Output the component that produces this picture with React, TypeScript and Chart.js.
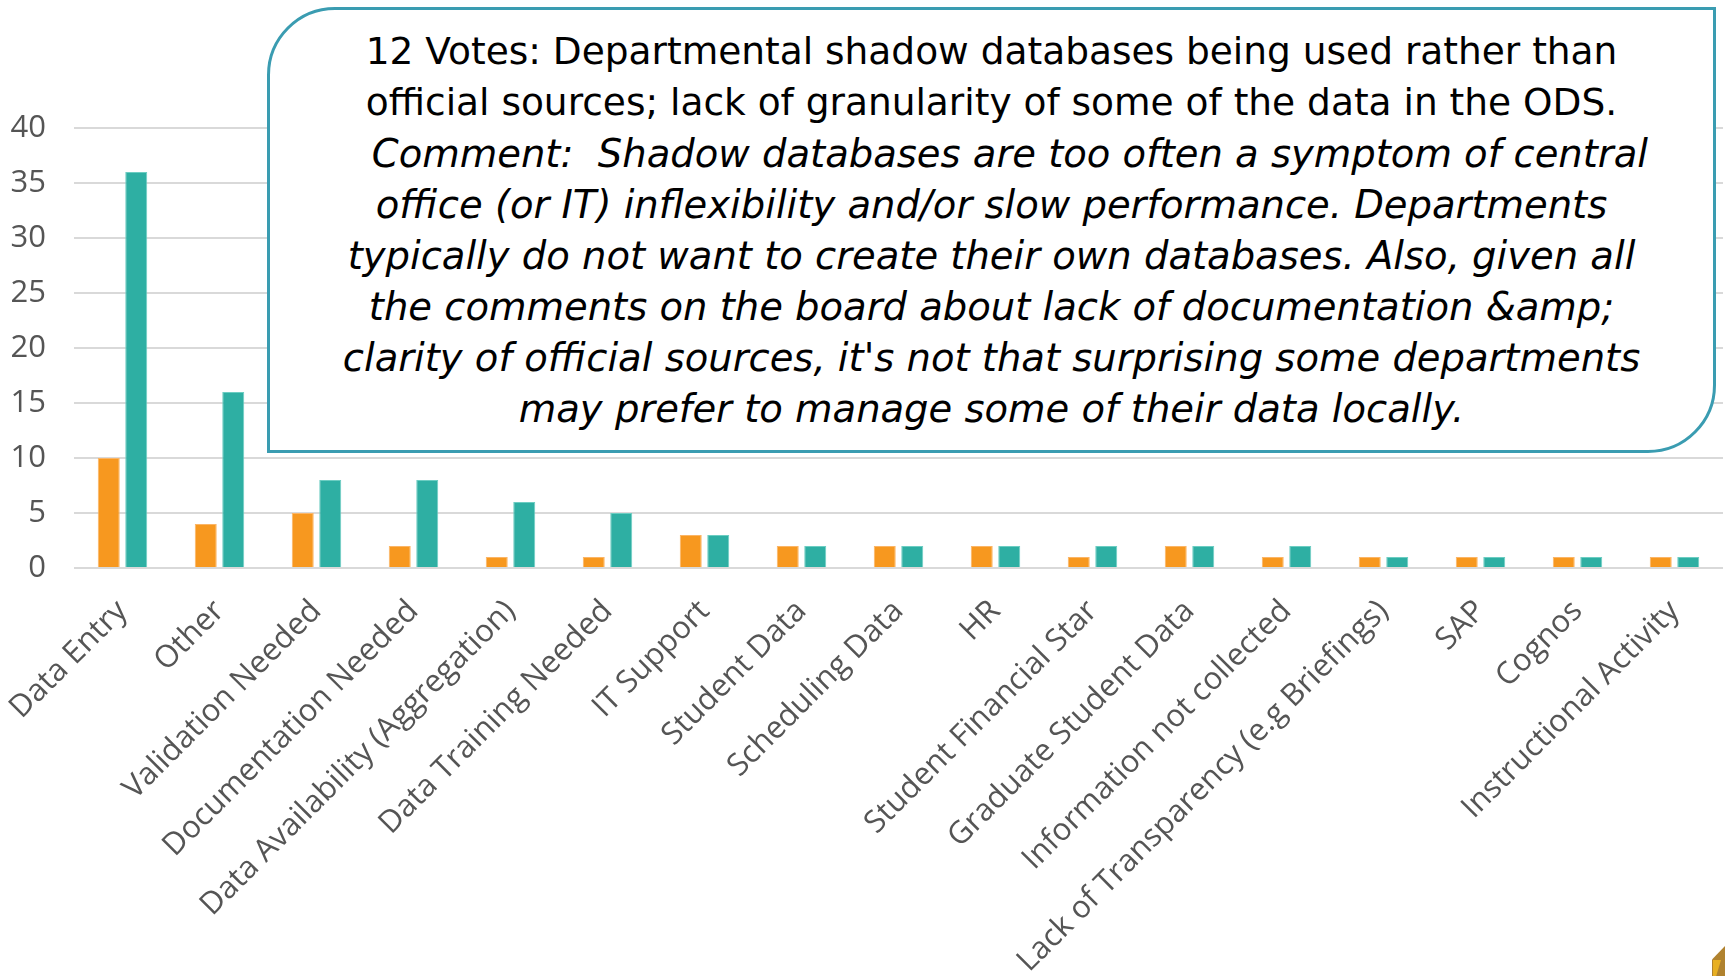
import React, { useEffect, useRef } from 'react';
import { Chart, registerables } from 'chart.js';

Chart.register(...registerables);

const categories = [
  'Data Entry',
  'Other',
  'Validation Needed',
  'Documentation Needed',
  'Data Availability (Aggregation)',
  'Data Training Needed',
  'IT Support',
  'Student Data',
  'Scheduling Data',
  'HR',
  'Student Financial Star',
  'Graduate Student Data',
  'Information not collected',
  'Lack of Transparency (e.g Briefings)',
  'SAP',
  'Cognos',
  'Instructional Activity',
];

const seriesOrange = [10, 4, 5, 2, 1, 1, 3, 2, 2, 2, 1, 2, 1, 1, 1, 1, 1];
const seriesTeal = [36, 16, 8, 8, 6, 5, 3, 2, 2, 2, 2, 2, 2, 1, 1, 1, 1];

const yMin = 0;
const yMax = 40;
const yStep = 5;

const noteLines = [
  { text: '12 Votes: Departmental shadow databases being used rather than', italic: false },
  { text: 'official sources; lack of granularity of some of the data in the ODS.', italic: false },
  { text: '   Comment:  Shadow databases are too often a symptom of central', italic: true },
  { text: 'office (or IT) inflexibility and/or slow performance. Departments', italic: true },
  { text: 'typically do not want to create their own databases. Also, given all', italic: true },
  { text: 'the comments on the board about lack of documentation &amp;', italic: true },
  { text: "clarity of official sources, it's not that surprising some departments", italic: true },
  { text: 'may prefer to manage some of their data locally.', italic: true },
];

const FONT = "'Open Sans', 'DejaVu Sans', sans-serif";
const BOX_FONT = "'DejaVu Sans', sans-serif";

export default function App() {
  const canvasRef = useRef<HTMLCanvasElement | null>(null);

  useEffect(() => {
    document.body.style.margin = '0';
    document.body.style.overflow = 'hidden';
    const canvas = canvasRef.current;
    if (!canvas) return;
    const chart = new Chart(canvas, {
      type: 'bar',
      data: {
        labels: categories,
        datasets: [
          {
            label: 'Series 1',
            data: seriesOrange,
            backgroundColor: '#F7981F',
            borderColor: '#FBB566',
            borderWidth: 1,
            categoryPercentage: 0.567,
            barPercentage: 0.8,
          },
          {
            label: 'Series 2',
            data: seriesTeal,
            backgroundColor: '#2EAFA3',
            borderColor: '#6CCDC2',
            borderWidth: 1,
            categoryPercentage: 0.567,
            barPercentage: 0.8,
          },
        ],
      },
      options: {
        responsive: false,
        animation: false,
        devicePixelRatio: 1,
        layout: { padding: { top: 128, left: 0, right: 2, bottom: 0 } },
        plugins: {
          legend: { display: false },
          tooltip: { enabled: false },
        },
        scales: {
          x: {
            grid: { display: false, drawTicks: false },
            border: { display: false },
            ticks: {
              autoSkip: false,
              maxRotation: 45,
              minRotation: 45,
              padding: 25,
              color: '#555555',
              font: { family: FONT, size: 31 },
            },
            afterFit: (scale: any) => {
              scale.height = 408;
              scale.paddingLeft = 0;
              scale.paddingRight = 0;
            },
          },
          y: {
            min: yMin,
            max: yMax,
            grid: { color: '#D9D9D9', lineWidth: 2, drawTicks: false },
            border: { display: false },
            ticks: {
              stepSize: yStep,
              padding: 28,
              color: '#555555',
              font: { family: FONT, size: 31 },
            },
            afterFit: (scale: any) => {
              scale.width = 74;
            },
          },
        },
      },
    });
    return () => chart.destroy();
  }, []);

  return (
    <div style={{ position: 'fixed', left: 0, top: 0, width: 1725, height: 976, background: '#fff', overflow: 'hidden' }}>
      <canvas ref={canvasRef} width={1725} height={976} style={{ position: 'absolute', left: 0, top: 0 }} />
      <div
        style={{
          position: 'absolute',
          left: 267,
          top: 7,
          width: 1716 - 267,
          height: 453 - 7,
          boxSizing: 'border-box',
          border: '3px solid #3A9CB1',
          borderRadius: '68px 0 68px 0',
          background: '#fff',
          display: 'flex',
          flexDirection: 'column',
          alignItems: 'center',
          justifyContent: 'center',
          fontFamily: BOX_FONT,
          lineHeight: '51px',
          color: '#000',
        }}
      >
        {noteLines.map((l, i) => (
          <div
            key={i}
            style={{
              whiteSpace: 'pre',
              fontStyle: l.italic ? 'italic' : 'normal',
              fontSize: l.italic ? 38.5 : 37.5,
            }}
          >
            {l.text}
          </div>
        ))}
      </div>
      <div
        style={{
          position: 'absolute',
          left: 1712,
          top: 946,
          width: 13,
          height: 30,
          background: '#B0822F',
          clipPath: 'polygon(100% 0, 100% 100%, 0 100%, 0 45%)',
        }}
      />
      <div
        style={{
          position: 'absolute',
          left: 1713,
          top: 960,
          width: 8,
          height: 16,
          background: '#E8B023',
          clipPath: 'polygon(0 0, 100% 0, 40% 100%, 0 100%)',
        }}
      />
    </div>
  );
}
